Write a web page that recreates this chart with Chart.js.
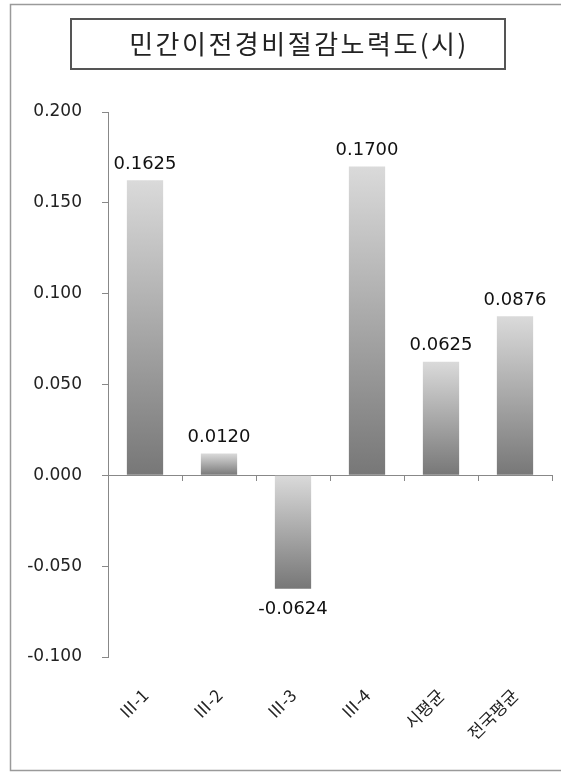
<!DOCTYPE html>
<html>
<head>
<meta charset="utf-8">
<script src="https://cdn.jsdelivr.net/npm/chart.js@4.4.0/dist/chart.umd.min.js"></script>
<style>
  body { margin: 0; background: #fff; }
  #wrap { width: 561px; height: 772px; position: relative; }
</style>
</head>
<body>
<div id="wrap"><canvas id="bar"></canvas></div>
<script>
// data
const title = '민간이전경비절감노력도(시)';
const labels = ['Ⅲ-1', 'Ⅲ-2', 'Ⅲ-3', 'Ⅲ-4', '시평균', '전국평균'];
const values = [0.1625, 0.0120, -0.0624, 0.1700, 0.0625, 0.0876];
const yTicks = [-0.100, -0.050, 0.000, 0.050, 0.100, 0.150, 0.200];

const axisGray = '#888888';

function barFill(ctx){
  const chart = ctx.chart;
  if(!chart.chartArea) return '#aaa';
  const y = chart.scales.y;
  const v = ctx.raw;
  const p0 = y.getPixelForValue(0);
  const p1 = y.getPixelForValue(v);
  const top = Math.min(p0, p1), bot = Math.max(p0, p1);
  const g = chart.ctx.createLinearGradient(0, top, 0, bot);
  g.addColorStop(0, '#dadada');
  g.addColorStop(1, '#777777');
  return g;
}

// frame + title box
const framePlugin = {
  id: 'frame',
  beforeDraw(chart){
    const c = chart.ctx;
    c.save();
    c.strokeStyle = '#9a9a9a';
    c.lineWidth = 1.5;
    c.strokeRect(10.5, 4.5, 600, 766);
    c.strokeStyle = '#555';
    c.lineWidth = 2;
    c.strokeRect(71, 19, 434, 50);
    c.fillStyle = '#222';
    c.font = '26px "Noto Sans CJK KR"';
    c.letterSpacing = '2.5px';
    c.textAlign = 'center';
    c.textBaseline = 'middle';
    c.fillText(title, 299, 44);
    c.restore();
  }
};

// value labels above / below bars
const valuePlugin = {
  id: 'vals',
  afterDatasetsDraw(chart){
    const c = chart.ctx;
    const meta = chart.getDatasetMeta(0);
    c.save();
    c.fillStyle = '#111';
    c.font = '18px "DejaVu Sans"';
    c.textAlign = 'center';
    meta.data.forEach(function(el, i){
      const v = values[i];
      if(v >= 0){
        c.textBaseline = 'bottom';
        c.fillText(v.toFixed(4), el.x, el.y - 7);
      } else {
        c.textBaseline = 'top';
        c.fillText(v.toFixed(4), el.x, el.y + 12);
      }
    });
    c.restore();
  }
};

const config = {
  type: 'bar',
  data: {
    labels: labels,
    datasets: [{
      data: values,
      backgroundColor: barFill,
      borderWidth: 0,
      barPercentage: 0.49,
      categoryPercentage: 1
    }]
  },
  options: {
    responsive: true,
    maintainAspectRatio: false,
    animation: false,
    layout: { padding: { top: 112, right: 9, left: 0, bottom: 0 } },
    plugins: {
      legend: { display: false },
      tooltip: { enabled: false },
      title: { display: false }
    },
    scales: {
      x: {
        position: 'bottom',
        grid: { display: false, drawTicks: false },
        border: { display: false },
        ticks: {
          color: '#222',
          font: { family: '"Noto Sans CJK KR"', size: 17 },
          minRotation: 45,
          maxRotation: 45,
          padding: 28,
          autoSkip: false
        },
        afterFit(s){ s.height = 115; }
      },
      x2: {
        type: 'category',
        labels: labels,
        position: { y: 0 },
        offset: true,
        grid: { offset: true, drawOnChartArea: false, drawTicks: true, tickLength: 5, color: axisGray },
        border: { display: true, color: axisGray, width: 1 },
        ticks: { display: false }
      },
      y: {
        min: -0.1,
        max: 0.2,
        afterBuildTicks(s){ s.ticks = yTicks.map(v => ({ value: v })); },
        grid: { drawOnChartArea: false, drawTicks: true, tickLength: 6, color: axisGray },
        border: { display: true, color: axisGray, width: 1 },
        ticks: {
          color: '#222',
          font: { family: '"DejaVu Sans"', size: 17 },
          padding: 20,
          callback: v => v.toFixed(3)
        },
        afterFit(s){ s.width = 108; }
      }
    }
  },
  plugins: [framePlugin, valuePlugin]
};

const chart = new Chart('bar', config);
</script>
</body>
</html>
